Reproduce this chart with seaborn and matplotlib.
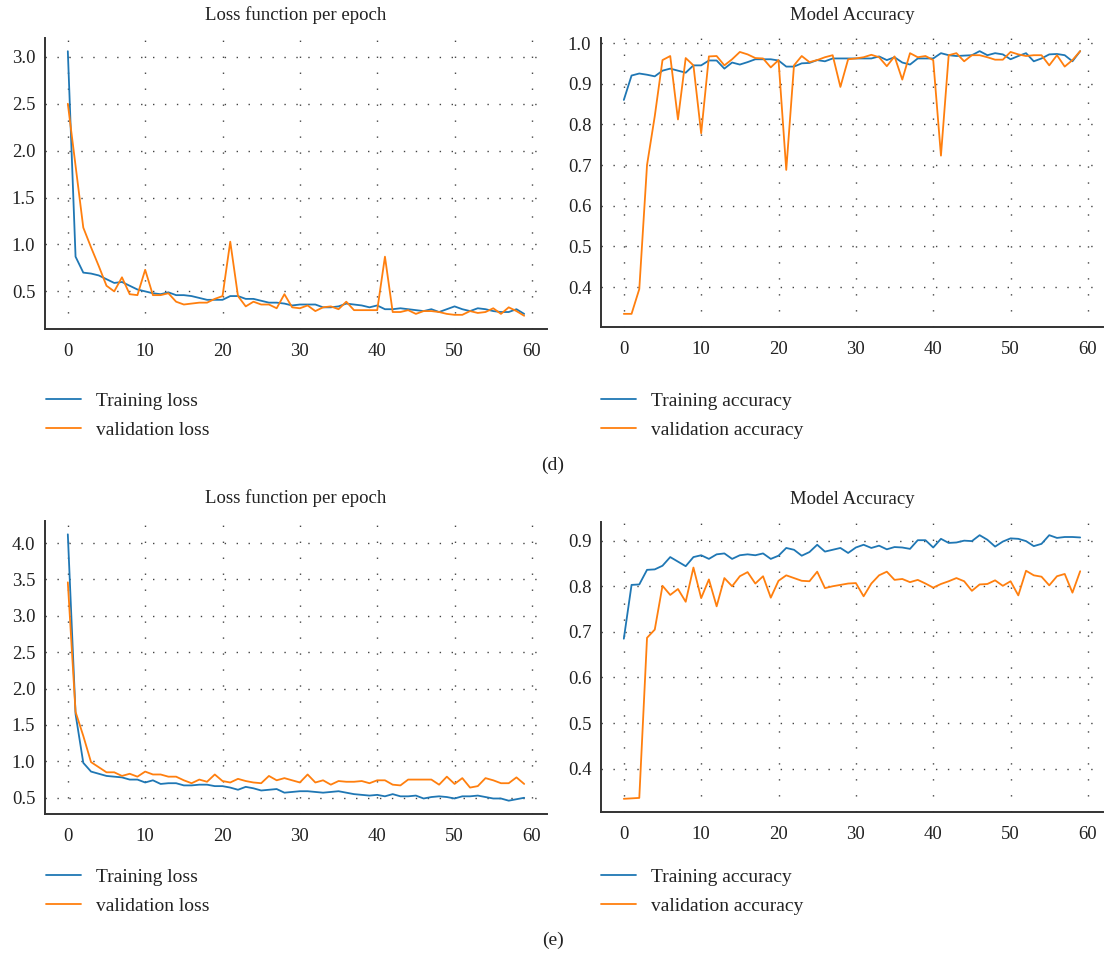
import numpy as np
import pandas as pd
import matplotlib
matplotlib.use("Agg")
import matplotlib.pyplot as plt
import seaborn as sns

# ---------------- data ----------------
epochs = list(range(60))

d_train_loss = [3.06, 0.87, 0.70, 0.69, 0.67, 0.63, 0.59, 0.60, 0.56, 0.52,
                0.50, 0.48, 0.47, 0.49, 0.46, 0.46, 0.45, 0.43, 0.41, 0.41,
                0.41, 0.45, 0.45, 0.42, 0.42, 0.40, 0.38, 0.38, 0.37, 0.35,
                0.36, 0.36, 0.36, 0.33, 0.33, 0.34, 0.37, 0.36, 0.35, 0.33,
                0.35, 0.31, 0.31, 0.32, 0.31, 0.30, 0.29, 0.31, 0.28, 0.31,
                0.34, 0.31, 0.29, 0.32, 0.31, 0.29, 0.28, 0.28, 0.31, 0.26]
d_val_loss = [2.50, 1.84, 1.18, 0.97, 0.77, 0.56, 0.50, 0.65, 0.47, 0.46,
              0.73, 0.46, 0.46, 0.48, 0.39, 0.36, 0.37, 0.38, 0.38, 0.42,
              0.45, 1.03, 0.45, 0.34, 0.39, 0.36, 0.36, 0.32, 0.47, 0.33,
              0.32, 0.35, 0.29, 0.33, 0.34, 0.31, 0.39, 0.30, 0.30, 0.30,
              0.30, 0.87, 0.28, 0.28, 0.30, 0.26, 0.29, 0.29, 0.28, 0.26,
              0.25, 0.25, 0.29, 0.27, 0.28, 0.32, 0.26, 0.33, 0.29, 0.24]
d_train_acc = [0.860, 0.920, 0.925, 0.922, 0.918, 0.932, 0.937, 0.932, 0.927, 0.945,
               0.945, 0.957, 0.957, 0.937, 0.952, 0.947, 0.953, 0.960, 0.960, 0.960,
               0.957, 0.942, 0.942, 0.950, 0.951, 0.958, 0.955, 0.962, 0.962, 0.962,
               0.962, 0.962, 0.962, 0.967, 0.958, 0.965, 0.952, 0.947, 0.962, 0.962,
               0.962, 0.975, 0.970, 0.968, 0.969, 0.970, 0.980, 0.970, 0.975, 0.972,
               0.960, 0.968, 0.975, 0.955, 0.962, 0.972, 0.973, 0.970, 0.955, 0.980]
d_val_acc = [0.334, 0.334, 0.395, 0.700, 0.820, 0.958, 0.968, 0.812, 0.963, 0.945,
             0.778, 0.967, 0.968, 0.945, 0.960, 0.978, 0.972, 0.963, 0.962, 0.940,
             0.958, 0.688, 0.945, 0.968, 0.953, 0.958, 0.965, 0.970, 0.892, 0.960,
             0.962, 0.965, 0.971, 0.965, 0.943, 0.967, 0.910, 0.975, 0.965, 0.968,
             0.958, 0.723, 0.970, 0.975, 0.955, 0.970, 0.970, 0.965, 0.959, 0.959,
             0.978, 0.972, 0.968, 0.970, 0.970, 0.945, 0.970, 0.942, 0.958, 0.980]

e_train_loss = [4.12, 1.65, 0.98, 0.86, 0.83, 0.80, 0.79, 0.78, 0.75, 0.75,
                0.71, 0.74, 0.69, 0.70, 0.70, 0.67, 0.67, 0.68, 0.68, 0.66,
                0.66, 0.64, 0.61, 0.65, 0.63, 0.60, 0.61, 0.62, 0.57, 0.58,
                0.59, 0.59, 0.58, 0.57, 0.58, 0.59, 0.57, 0.55, 0.54, 0.53,
                0.54, 0.52, 0.55, 0.52, 0.52, 0.53, 0.49, 0.51, 0.52, 0.51,
                0.49, 0.52, 0.52, 0.53, 0.51, 0.49, 0.49, 0.46, 0.48, 0.50]
e_val_loss = [3.46, 1.68, 1.35, 0.99, 0.92, 0.85, 0.85, 0.80, 0.83, 0.79,
              0.86, 0.82, 0.82, 0.79, 0.79, 0.74, 0.70, 0.75, 0.72, 0.82,
              0.73, 0.71, 0.76, 0.73, 0.71, 0.70, 0.80, 0.74, 0.77, 0.74,
              0.71, 0.82, 0.71, 0.74, 0.68, 0.73, 0.72, 0.72, 0.73, 0.70,
              0.74, 0.74, 0.68, 0.67, 0.75, 0.75, 0.75, 0.75, 0.68, 0.79,
              0.69, 0.77, 0.64, 0.66, 0.77, 0.74, 0.70, 0.70, 0.78, 0.69]
e_train_acc = [0.685, 0.803, 0.804, 0.836, 0.837, 0.845, 0.864, 0.854, 0.844, 0.864,
               0.868, 0.860, 0.870, 0.872, 0.860, 0.868, 0.870, 0.868, 0.872, 0.860,
               0.867, 0.884, 0.880, 0.867, 0.875, 0.891, 0.876, 0.880, 0.884, 0.873,
               0.885, 0.891, 0.884, 0.889, 0.881, 0.886, 0.885, 0.882, 0.901, 0.901,
               0.885, 0.904, 0.895, 0.896, 0.900, 0.899, 0.912, 0.902, 0.887, 0.898,
               0.905, 0.904, 0.899, 0.888, 0.893, 0.912, 0.906, 0.908, 0.908, 0.907]
e_val_acc = [0.334, 0.335, 0.336, 0.687, 0.705, 0.801, 0.781, 0.794, 0.766, 0.841,
             0.774, 0.815, 0.756, 0.818, 0.800, 0.822, 0.831, 0.806, 0.822, 0.775,
             0.812, 0.824, 0.818, 0.812, 0.811, 0.832, 0.796, 0.800, 0.803, 0.806,
             0.807, 0.778, 0.806, 0.824, 0.832, 0.814, 0.816, 0.809, 0.814, 0.806,
             0.797, 0.805, 0.811, 0.818, 0.811, 0.790, 0.804, 0.805, 0.813, 0.801,
             0.811, 0.780, 0.834, 0.824, 0.821, 0.802, 0.822, 0.827, 0.786, 0.833]

loss_title = "Loss function per epoch"
acc_title = "Model Accuracy"
loss_labels = ["Training loss", "validation loss"]
acc_labels = ["Training accuracy", "validation accuracy"]
captions = ["(d)", "(e)"]
xticks = [0, 10, 20, 30, 40, 50, 60]
loss_ticks_d = [0.5, 1.0, 1.5, 2.0, 2.5, 3.0]
loss_ticks_e = [0.5, 1.0, 1.5, 2.0, 2.5, 3.0, 3.5, 4.0]
acc_ticks_d = [0.4, 0.5, 0.6, 0.7, 0.8, 0.9, 1.0]
acc_ticks_e = [0.4, 0.5, 0.6, 0.7, 0.8, 0.9]

# ---------------- style ----------------
sns.set_theme(style="white")
plt.rcParams['font.family'] = ['Liberation Serif', 'DejaVu Serif']
plt.rcParams['axes.linewidth'] = 1.4
plt.rcParams['axes.edgecolor'] = '#333333'

BLUE = '#1f77b4'
ORANGE = '#ff7f0e'
W, H = 1106, 957
fig = plt.figure(figsize=(W / 100, H / 100), dpi=100)


def rect(x0, y0, x1, y1):
    return [x0 / W, 1 - y1 / H, (x1 - x0) / W, (y1 - y0) / H]


def panel(r, tr, va, labels, title, yticks, leg_xy):
    ax = fig.add_axes(rect(*r))
    df = pd.DataFrame({"epoch": epochs * 2,
                       "value": tr + va,
                       "series": [labels[0]] * 60 + [labels[1]] * 60})
    sns.lineplot(data=df, x="epoch", y="value", hue="series",
                 palette=[BLUE, ORANGE], ax=ax, linewidth=1.3, legend=True)
    ax.set_xlabel("")
    ax.set_ylabel("")
    ax.set_xticks(xticks)
    ax.set_yticks(yticks)
    ax.set_yticklabels([f"{t:.1f}" for t in yticks])
    ax.tick_params(axis='both', length=0, labelsize=13.5, colors='#222222')
    ax.tick_params(axis='x', pad=10)
    ax.tick_params(axis='y', pad=7)
    ax.yaxis.grid(True, linestyle=(0, (1, 7.6)), color='#444444', linewidth=1.0)
    ax.xaxis.grid(True, linestyle=(0, (1, 10.5)), color='#444444', linewidth=1.0)
    for s in ['top', 'right']:
        ax.spines[s].set_visible(False)
    ax.set_title(title, fontsize=13.5, pad=13, color='#222222')
    handles, lbls = ax.get_legend_handles_labels()
    ax.legend(handles, lbls, loc='upper left',
              bbox_to_anchor=(leg_xy[0] / W, 1 - leg_xy[1] / H),
              bbox_transform=fig.transFigure, frameon=False,
              borderaxespad=0, borderpad=0, fontsize=14,
              handlelength=1.8, handletextpad=0.75, labelspacing=0.62,
              labelcolor='#222222')
    return ax


panel((45, 38, 547, 329), d_train_loss, d_val_loss, loss_labels, loss_title,
      loss_ticks_d, (46, 392))
panel((601, 38, 1103, 327), d_train_acc, d_val_acc, acc_labels, acc_title,
      acc_ticks_d, (601, 392))
panel((45, 521, 547, 814), e_train_loss, e_val_loss, loss_labels, loss_title,
      loss_ticks_e, (46, 868))
panel((601, 522, 1103, 812), e_train_acc, e_val_acc, acc_labels, acc_title,
      acc_ticks_e, (601, 868))

fig.text(553 / W, 1 - 465 / H, captions[0], ha='center', va='center',
         fontsize=14, color='#222222')
fig.text(553 / W, 1 - 940 / H, captions[1], ha='center', va='center',
         fontsize=14, color='#222222')

fig.savefig("out.png", dpi=100)
